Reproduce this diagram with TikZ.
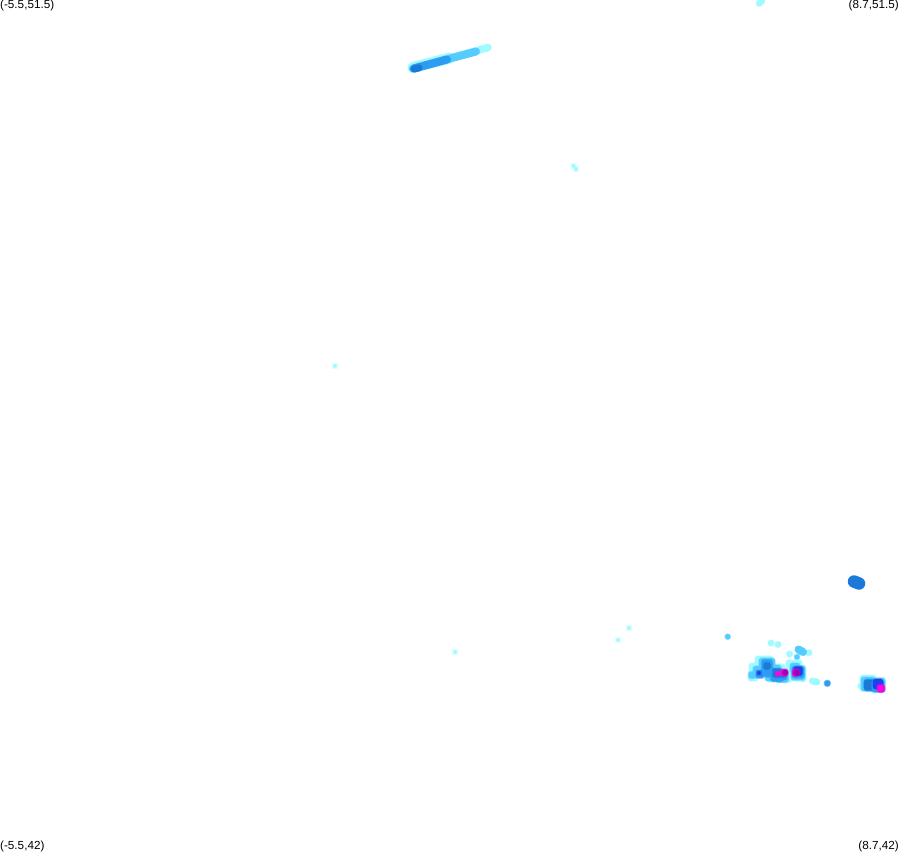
\documentclass[tikz,border=0pt]{standalone}
\usepackage{fontspec}
\setmainfont{Liberation Sans}
\definecolor{lightc}{HTML}{A0FAFF}
\definecolor{midc}{HTML}{55CCFF}
\definecolor{bluec}{HTML}{2C9DF2}
\definecolor{darkc}{HTML}{1B7AD8}
\definecolor{deepc}{HTML}{2040F0}
\definecolor{magc}{HTML}{FF00E0}
\definecolor{purpc}{HTML}{A000B4}
\tikzset{
  corner/.style={inner sep=0pt,font=\fontsize{11.7}{12}\selectfont},
  streak/.style={line cap=round,line join=round},
  halo/.style={draw=#1,fill=#1,draw opacity=0.45,line width=1.2pt,rounded corners=2.5pt}
}
% one soft square spot: colour, x, y, half size
\newcommand{\spot}[4]{\path[halo=#1] (#2-#4,#3-#4) rectangle (#2+#4,#3+#4);}
\begin{document}
\begin{tikzpicture}[x=1pt,y=-1pt]
  \useasboundingbox (0,0) rectangle (899,852);

  \node[corner,anchor=north west] (tl) at (0,0)   {(-5.5,51.5)};
  \node[corner,anchor=north east] (tr) at (899,0) {(8.7,51.5)};
  \node[corner,anchor=south west] (bl) at (0,852)   {(-5.5,42)};
  \node[corner,anchor=south east] (br) at (899,852) {(8.7,42)};

  % long streak
  \draw[streak,lightc,line width=7.5pt] (412,69) -- (488,47.5);
  \draw[streak,lightc,line width=11pt] (413,67.5) -- (450,58);
  \draw[streak,midc,line width=8pt] (413,68.5) -- (476,51.5);
  \draw[streak,bluec,line width=8pt] (414,68.5) -- (447,59.5);
  \draw[streak,darkc,line width=7pt] (414,69) -- (419,67.8);

  % top edge and lone spots
  \draw[streak,lightc,line width=6.5pt] (759,3.5) -- (762,1);
  \foreach \px/\py in {573.5/166, 576/169, 335/366, 455/652, 618/640, 629/628}
    {\spot{lightc}{\px}{\py}{2}}

  % blob on the right
  \draw[streak,darkc,line width=12.5pt] (854,581.5) -- (859,583.5);

  % small scattered spots
  \foreach \px/\py in {771/643, 778/644.5, 789.5/654, 809/652.7}
    {\spot{lightc}{\px}{\py}{3}}
  \draw[streak,lightc,line width=7pt] (812.5,681) -- (817,682);
  \foreach \px/\py in {727.7/636.7, 797/657, 802.7/678.7}
    {\spot{midc}{\px}{\py}{2.7}}
  \draw[streak,midc,line width=8pt] (798.5,649.5) -- (803,652);
  \spot{bluec}{827.3}{683.3}{3}

  % left cluster
  \foreach \px/\py/\pr in {753/676/5, 756/670/7, 764/665/9, 768/660/4, 776/673/9, 785/675/7, 794/668/8, 798/673/8}
    {\spot{lightc}{\px}{\py}{\pr}}
  \foreach \px/\py/\pr in {752/675/3.5, 759/672/6, 767/666/8, 773/673/8, 782/676/6.5, 795/668/5, 798/673/7}
    {\spot{midc}{\px}{\py}{\pr}}
  \foreach \px/\py/\pr in {760/674/4, 767/665/5.5, 769/672/5, 777/675/6.5, 783/676/4, 798/672/6}
    {\spot{bluec}{\px}{\py}{\pr}}
  \foreach \px/\py/\pr in {767/666/3.5, 777/673/4.5, 783/674/3.5, 795/671/2.5}
    {\spot{darkc}{\px}{\py}{\pr}}
  \spot{deepc}{798}{671}{4.5}
  \spot{deepc}{759}{673}{2}
  \spot{magc}{777.7}{673.7}{2.4}
  \spot{magc}{784.3}{672.7}{3.6}
  \spot{purpc}{785}{672.7}{2.7}
  \spot{magc}{795.8}{672.7}{3.6}
  \spot{purpc}{796.5}{672.7}{3}

  % right cluster
  \foreach \px/\py/\pr in {860/686/2.5, 868/683/8, 878/685/7.5}
    {\spot{lightc}{\px}{\py}{\pr}}
  \foreach \px/\py/\pr in {868/684/7, 878/685/7}
    {\spot{midc}{\px}{\py}{\pr}}
  \spot{bluec}{870}{685}{6}
  \spot{darkc}{869}{685}{5}
  \spot{bluec}{878}{686}{6}
  \spot{deepc}{878}{684}{5}
  \spot{magc}{881}{688.5}{3.8}
\end{tikzpicture}
\end{document}
